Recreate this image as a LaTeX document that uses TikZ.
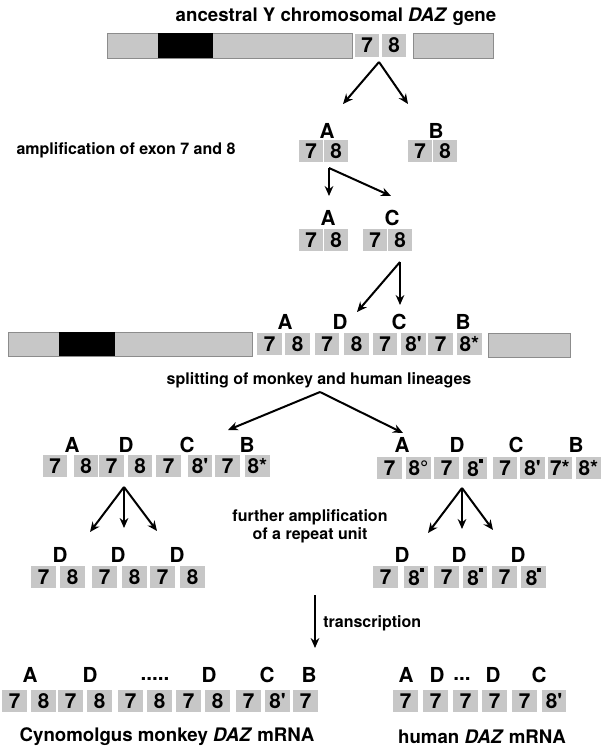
\documentclass[tikz,border=0pt]{standalone}
\usepackage{fontspec}
\setmainfont{TeX Gyre Heros}
\usetikzlibrary{arrows.meta}
\tikzset{
  exon/.style={fill=black!22, inner sep=0pt, minimum width=18.5pt,
    minimum height=17pt, font=\bfseries\fontsize{15.5}{15.5}\selectfont},
  lbl/.style={inner sep=0pt, font=\bfseries\fontsize{15.5}{15.5}\selectfont},
  txt/.style={inner sep=0pt, align=center, font=\bfseries\fontsize{12}{13.5}\selectfont},
  captxt/.style={inner sep=0pt, font=\bfseries\fontsize{14}{14}\selectfont},
  arr/.style={-{Stealth[length=7.5pt,width=6.5pt]}, line width=1.5pt},
  bar/.style={fill=black!22, draw=black!45, line width=0.3pt}
}
\newcommand{\blk}{\raisebox{1.25ex}{\rule{2.8pt}{2.8pt}}}
\newcommand{\pr}{\textquotesingle}
\begin{document}
\begin{tikzpicture}[x=0.75pt,y=-0.75pt]
\useasboundingbox (0,0) rectangle (600,749);
% ancestral gene
\node[captxt] (title) at (336,17) {ancestral Y chromosomal \textit{DAZ} gene};
\draw[bar] (107,33) rectangle (352,58);
\fill[black] (158,33) rectangle (213,58);
\draw[bar] (413,33) rectangle (493,58);
\node[exon] (g7) at (367,45.5) {7};
\node[exon] (g8) at (394,45.5) {8};
\coordinate (s1) at (379,62);
\coordinate (s1a) at (343,104);
\coordinate (s1b) at (408,104);
\draw[arr] (s1) -- (s1a);
\draw[arr] (s1) -- (s1b);
% first amplification
\node[txt] (amp) at (126,150) {amplification of exon 7 and 8};
\node[lbl] (la1) at (327,131) {A};
\node[lbl] (lb1) at (436,131) {B};
\node[exon] (a7) at (311,151) {7};
\node[exon] (a8) at (336,151) {8};
\node[exon] (b7) at (420,151) {7};
\node[exon] (b8) at (445,151) {8};
\coordinate (s2) at (329,168);
\coordinate (s2a) at (329,196);
\coordinate (s2b) at (391,196);
\draw[arr] (s2) -- (s2a);
\draw[arr] (s2) -- (s2b);
\node[lbl] (la2) at (328,218) {A};
\node[lbl] (lc2) at (392,218) {C};
\node[exon] (ac1) at (311,240) {7};
\node[exon] (ac2) at (336,240) {8};
\node[exon] (ac3) at (375,240) {7};
\node[exon] (ac4) at (400,240) {8};
\coordinate (s3) at (400,262);
\coordinate (s3a) at (357,312);
\coordinate (s3b) at (400,305);
\draw[arr] (s3) -- (s3a);
\draw[arr] (s3) -- (s3b);
% gene with four repeats
\draw[bar] (8,332) rectangle (252,356);
\fill[black] (59,332) rectangle (115,356);
\draw[bar] (488,333) rectangle (570,357);
\node[lbl] (la3) at (285,322) {A};
\node[lbl] (ld3) at (340,322) {D};
\node[lbl] (lc3) at (399,322) {C};
\node[lbl] (lb3) at (463,322) {B};
\node[exon] (u1) at (269.5,344) {7};
\node[exon] (u2) at (297.5,344) {8};
\node[exon] (u3) at (327,344) {7};
\node[exon] (u4) at (356.5,344) {8};
\node[exon] (u5) at (385,344) {7};
\node[exon] (u6) at (413.5,344) {8\pr};
\node[exon] (u7) at (440.5,344) {7};
\node[exon] (u8) at (469.5,344) {8*};
\node[txt] (split) at (319,380) {splitting of monkey and human lineages};
\coordinate (s4) at (320,392);
\coordinate (s4a) at (228,430);
\coordinate (s4b) at (403,433);
\draw[arr] (s4) -- (s4a);
\draw[arr] (s4) -- (s4b);
% monkey lineage
\node[lbl] (la4) at (72,445) {A};
\node[lbl] (ld4) at (126,445) {D};
\node[lbl] (lc4) at (187,445) {C};
\node[lbl] (lb4) at (247,445) {B};
\node[exon] (m1) at (55,466) {7};
\node[exon] (m2) at (86,466) {8};
\node[exon] (m3) at (111.5,466) {7};
\node[exon] (m4) at (140,466) {8};
\node[exon] (m5) at (168.5,466) {7};
\node[exon] (m6) at (200,466) {8\pr};
\node[exon] (m7) at (227.5,466) {7};
\node[exon] (m8) at (257.5,466) {8*};
% human lineage
\node[lbl] (la5) at (402,445) {A};
\node[lbl] (ld5) at (457,445) {D};
\node[lbl] (lc5) at (516,445) {C};
\node[lbl] (lb5) at (576,445) {B};
\node[exon] (h1) at (389.5,468) {7};
\node[exon] (h2) at (418.5,468) {8°};
\node[exon] (h3) at (446.5,468) {7};
\node[exon] (h4) at (475,468) {8\blk};
\node[exon] (h5) at (505,468) {7};
\node[exon] (h6) at (532.5,468) {8\pr};
\node[exon] (h7) at (560,468) {7*};
\node[exon] (h8) at (588.5,468) {8*};
% further amplification
\node[txt] (further) at (310,526) {further amplification\\of a repeat unit};
\coordinate (s5) at (124,487);
\coordinate (s5a) at (90,532);
\coordinate (s5b) at (124,528);
\coordinate (s5c) at (157,531);
\draw[arr] (s5) -- (s5a);
\draw[arr] (s5) -- (s5b);
\draw[arr] (s5) -- (s5c);
\coordinate (s6) at (462,488);
\coordinate (s6a) at (428,533);
\coordinate (s6b) at (462,529);
\coordinate (s6c) at (493,530);
\draw[arr] (s6) -- (s6a);
\draw[arr] (s6) -- (s6b);
\draw[arr] (s6) -- (s6c);
\node[lbl] (ld6) at (60,555) {D};
\node[lbl] (ld7) at (118,555) {D};
\node[lbl] (ld8) at (177,555) {D};
\node[exon] (n1) at (43.5,577) {7};
\node[exon] (n2) at (72.5,577) {8};
\node[exon] (n3) at (104.5,577) {7};
\node[exon] (n4) at (134.5,577) {8};
\node[exon] (n5) at (162.5,577) {7};
\node[exon] (n6) at (192.5,577) {8};
\node[lbl] (ld9) at (402,555) {D};
\node[lbl] (ld10) at (459,555) {D};
\node[lbl] (ld11) at (518,555) {D};
\node[exon] (k1) at (385.5,577) {7};
\node[exon] (k2) at (416,577) {8\blk};
\node[exon] (k3) at (446.5,577) {7};
\node[exon] (k4) at (475,577) {8\blk};
\node[exon] (k5) at (504.5,577) {7};
\node[exon] (k6) at (533.5,577) {8\blk};
% transcription
\coordinate (t0) at (315,595);
\coordinate (t1) at (315,648);
\draw[arr] (t0) -- (t1);
\node[txt, anchor=west] (trans) at (323,623) {transcription};
% monkey mRNA
\node[lbl] (la6) at (30,675) {A};
\node[lbl] (ld12) at (90,675) {D};
\node[lbl] (dots1) at (155,679) {.....};
\node[lbl] (ld13) at (209,675) {D};
\node[lbl] (lc6) at (267,675) {C};
\node[lbl] (lb6) at (309,675) {B};
\node[exon] (c1) at (14.5,701) {7};
\node[exon] (c2) at (43.5,701) {8};
\node[exon] (c3) at (70.5,701) {7};
\node[exon] (c4) at (99.5,701) {8};
\node[exon] (c5) at (130.5,701) {7};
\node[exon] (c6) at (159.5,701) {8};
\node[exon] (c7) at (188.5,701) {7};
\node[exon] (c8) at (217.5,701) {8};
\node[exon] (c9) at (248.5,701) {7};
\node[exon] (c10) at (277.5,701) {8\pr};
\node[exon] (c11) at (305.5,701) {7};
\node[captxt] (mcap) at (167,737) {Cynomolgus monkey \textit{DAZ} mRNA};
% human mRNA
\node[lbl] (la7) at (406,675) {A};
\node[lbl] (ld14) at (437,675) {D};
\node[lbl] (dots2) at (462,679) {...};
\node[lbl] (ld15) at (493,675) {D};
\node[lbl] (lc7) at (539,675) {C};
\node[exon] (e1) at (405.5,701) {7};
\node[exon] (e2) at (435.5,701) {7};
\node[exon] (e3) at (465.5,701) {7};
\node[exon] (e4) at (494.5,701) {7};
\node[exon] (e5) at (524.5,701) {7};
\node[exon] (e6) at (554,701) {8\pr};
\node[captxt] (hcap) at (482,737) {human \textit{DAZ} mRNA};
\end{tikzpicture}
\end{document}
